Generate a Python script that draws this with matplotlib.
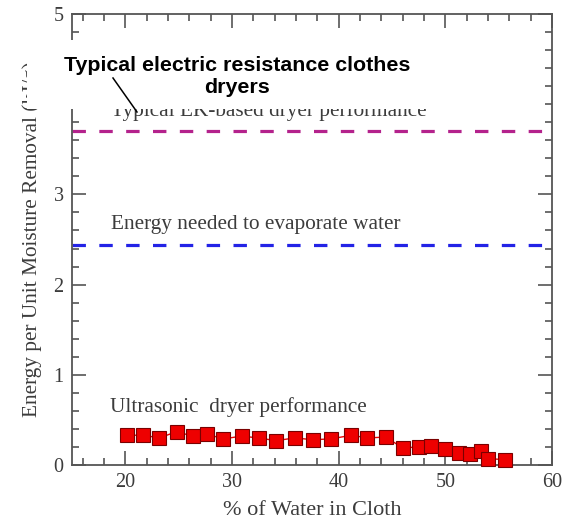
import matplotlib
matplotlib.use('Agg')
import matplotlib.pyplot as plt
from matplotlib.patches import Rectangle
from matplotlib.lines import Line2D
from matplotlib.ticker import MultipleLocator

# ultrasonic dryer measurements
water_pct = [20.2, 21.7, 23.2, 24.8, 26.3, 27.7, 29.2, 30.9, 32.5, 34.1, 35.9, 37.6, 39.3,
             41.2, 42.7, 44.4, 46.0, 47.5, 48.7, 50.0, 51.3, 52.3, 53.3, 54.0, 55.6]
energy = [0.33, 0.33, 0.30, 0.37, 0.32, 0.34, 0.29, 0.32, 0.30, 0.27, 0.30, 0.28, 0.29,
          0.33, 0.30, 0.31, 0.19, 0.20, 0.21, 0.18, 0.13, 0.125, 0.15, 0.07, 0.06]

ek_dryer = 3.70
evaporate = 2.44

gray = '#3c3c3c'
serif = ['Liberation Serif', 'DejaVu Serif']

fig = plt.figure(figsize=(5.67, 5.28), dpi=100)
ax = fig.add_axes([72/567, 1 - 465/528, 480/567, 451/528])

ax.axhline(ek_dryer, color='#b4228c', lw=2.3, dashes=(4.2, 4.2))
ax.axhline(evaporate, color='#2323e6', lw=2.3, dashes=(4.2, 4.2))
ax.plot(water_pct, energy, color='#ee0000', lw=1, marker='s', markersize=9.5,
        markerfacecolor='#ee0000', markeredgecolor='#7a0000', markeredgewidth=0.8,
        clip_on=False, zorder=3)

ax.text(18.7, 3.87, 'Typical EK-based dryer performance', family=serif, fontsize=15.3, color=gray)
ax.text(18.7, 2.62, 'Energy needed to evaporate water', family=serif, fontsize=15.3, color=gray)
ax.text(18.6, 0.59, 'Ultrasonic  dryer performance', family=serif, fontsize=15.3, color=gray)

ax.set_xlim(15, 60)
ax.set_ylim(0, 5)
ax.xaxis.set_major_locator(MultipleLocator(10))
ax.xaxis.set_minor_locator(MultipleLocator(2))
ax.yaxis.set_major_locator(MultipleLocator(1))
ax.yaxis.set_minor_locator(MultipleLocator(0.2))
ax.tick_params(which='both', direction='in', top=True, right=True, color='#555555', width=1.2)
ax.tick_params(which='major', length=10, labelsize=14.5, labelcolor=gray, pad=6)
ax.tick_params(which='minor', length=5)
for lab in ax.get_xticklabels() + ax.get_yticklabels():
    lab.set_family(serif)
ax.set_yticks([0, 1, 2, 3, 5])
for s in ax.spines.values():
    s.set_color('#555555')
    s.set_linewidth(1.3)

ax.set_xlabel('% of Water in Cloth', family=serif, fontsize=16, color=gray, labelpad=6)
ax.set_ylabel('Energy per Unit Moisture Removal (kJ/g)', family=serif, fontsize=15.3,
              color=gray, labelpad=8)

# callout box over the top label
fig.add_artist(Rectangle((27/567, 1 - 109/528), 443/567, 69/528, transform=fig.transFigure,
                         facecolor='white', edgecolor='none', zorder=10))
fig.text(237/567, 1 - 76.5/528, 'Typical electric resistance clothes\ndryers', ha='center', va='center',
         family=['Liberation Sans', 'DejaVu Sans'], fontweight='bold', fontsize=15.4,
         color='black', linespacing=1.2, zorder=11)
fig.add_artist(Line2D([113/567, 137/567], [1 - 78/528, 1 - 112/528], transform=fig.transFigure,
                      color='black', lw=1.1, zorder=11))

fig.savefig('out.png', dpi=100)
